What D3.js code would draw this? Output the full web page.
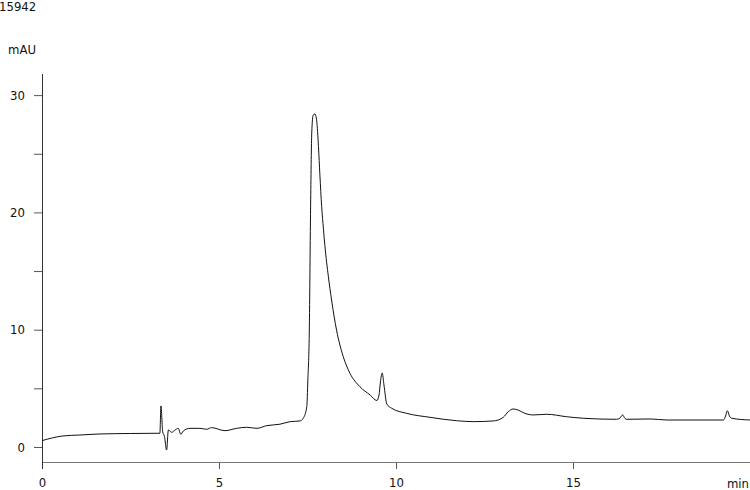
<!DOCTYPE html>
<html>
<head>
<meta charset="utf-8">
<script src="https://cdn.jsdelivr.net/npm/d3@7"></script>
<style>
  html, body { margin: 0; padding: 0; background: #fff; }
  svg { display: block; }
  text { font-family: "DejaVu Sans Condensed", "DejaVu Sans", sans-serif; font-size: 13px; fill: #111; }
</style>
</head>
<body>
<svg id="chart" width="750" height="490"></svg>
<script>
// ---- data ----
const sampleId = "15942";
const yUnit = "mAU";
const xUnit = "min";
const xTickValues = [0, 5, 10, 15];
const yTickValues = [0, 5, 10, 15, 20, 25, 30];
const yLabelValues = [0, 10, 20, 30];

const times = [
  0, 0.59, 1.07, 1.64, 2.49, 3.33, 3.36, 3.41, 3.46, 3.52, 3.57,
  3.66, 3.76, 3.85, 3.92, 3.99, 4.18, 4.46, 4.65, 4.79, 5.17, 5.5,
  5.78, 6.07, 6.35, 6.72, 7.01, 7.29, 7.38, 7.48, 7.51, 7.55, 7.59,
  7.62, 7.66, 7.71, 7.76, 7.81, 7.85, 7.9, 7.95, 7.99, 8.09, 8.18, 8.32,
  8.51, 8.7, 8.98, 9.27, 9.46, 9.52, 9.56, 9.61, 9.66, 9.74, 9.88,
  10.3, 10.96, 11.71, 12.18, 12.75, 13.03, 13.17, 13.31, 13.45, 13.64,
  13.88, 14.26, 14.82, 15.29, 16.23, 16.33, 16.4, 16.47, 16.52, 17.18,
  17.65, 18.59, 19.25, 19.31, 19.36, 19.42, 19.48, 20
];
const signal = [
  0.54, 0.94, 1.02, 1.11, 1.15, 1.17, 3.5, 1.3, 0.9, -0.26, 1.45,
  1.25, 1.45, 1.59, 1.08, 1.36, 1.59, 1.59, 1.51, 1.65, 1.39, 1.59,
  1.68, 1.59, 1.82, 1.94, 2.16, 2.22, 2.45, 3.44, 5.7, 9.72, 21.06,
  26.77, 28.3, 28.39, 27.8, 25.6, 23.2, 20.5, 18.6, 17.2, 14.52, 12.53, 9.97,
  7.7, 6.28, 5.14, 4.43, 3.96, 4.43, 5.54, 6.31, 5.29, 3.67, 3.3,
  2.87, 2.53, 2.24, 2.16, 2.22, 2.53, 3.01, 3.24, 3.15, 2.87,
  2.73, 2.79, 2.58, 2.45, 2.36, 2.47, 2.73, 2.43, 2.36, 2.39,
  2.3, 2.3, 2.3, 2.64, 3.09, 2.64, 2.45, 2.3
];

// ---- drawing ----
const svg = d3.select("#chart");
const x = d3.scaleLinear().domain([0, 20]).range([42, 750]);
const y = d3.scaleLinear().domain([-1.28, 31.8]).range([462, 74]);

// titles
svg.append("text").attr("x", -1).attr("y", 11).text(sampleId);
svg.append("text").attr("x", 8).attr("y", 54).text(yUnit);
svg.append("text").attr("x", 749).attr("y", 488).attr("text-anchor", "end").text(xUnit);

// y axis
const yAxis = d3.axisLeft(y)
  .tickValues(yTickValues)
  .tickSize(8)
  .tickPadding(9)
  .tickFormat(d => yLabelValues.includes(d) ? String(d) : "");
const gy = svg.append("g").attr("transform", `translate(${x(0)},0)`).call(yAxis);
gy.select(".domain").remove();
gy.selectAll(".tick line").attr("stroke", "#555");
gy.selectAll(".tick text").attr("font-size", 13).attr("fill", "#111")
  .attr("font-family", '"DejaVu Sans Condensed", "DejaVu Sans", sans-serif');

// x axis
const xAxis = d3.axisBottom(x)
  .tickValues(xTickValues)
  .tickSize(7)
  .tickPadding(9)
  .tickFormat(d => String(d));
const gx = svg.append("g").attr("transform", `translate(0,${y(-1.28)})`).call(xAxis);
gx.select(".domain").remove();
gx.selectAll(".tick line").attr("stroke", "#555");
gx.selectAll(".tick text").attr("font-size", 13).attr("fill", "#111")
  .attr("font-family", '"DejaVu Sans Condensed", "DejaVu Sans", sans-serif');

// axis lines
svg.append("line")
  .attr("x1", x(0)).attr("x2", x(20))
  .attr("y1", y(-1.28)).attr("y2", y(-1.28))
  .attr("stroke", "#777").attr("shape-rendering", "crispEdges");
svg.append("line")
  .attr("x1", x(0)).attr("x2", x(0))
  .attr("y1", y(31.8)).attr("y2", y(-1.28) + 7)
  .attr("stroke", "#333").attr("shape-rendering", "crispEdges");

// trace
const pts = times.map((t, i) => [t, signal[i]]);
const line = d3.line()
  .x(d => x(d[0]))
  .y(d => y(d[1]))
  .curve(d3.curveMonotoneX);
svg.append("path")
  .datum(pts)
  .attr("d", line)
  .attr("fill", "none")
  .attr("stroke", "#111")
  .attr("stroke-width", 1);
</script>
</body>
</html>
